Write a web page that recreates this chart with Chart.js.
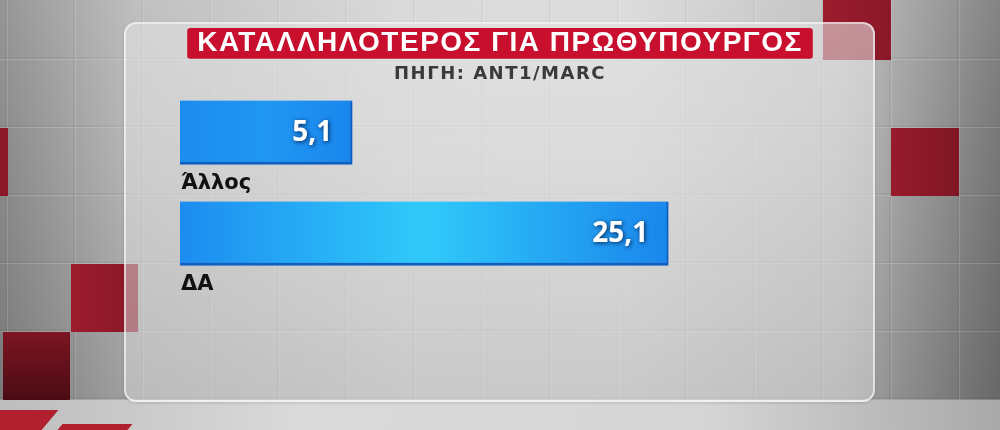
<!DOCTYPE html>
<html>
<head>
<meta charset="utf-8">
<script src="https://cdn.jsdelivr.net/npm/chart.js@4.4.1/dist/chart.umd.min.js"></script>
<style>
html, body { margin: 0; padding: 0; }
body {
    width: 1000px; height: 430px; overflow: hidden; position: relative;
    background:
        linear-gradient(to bottom, rgba(255,255,255,0.10) 0%, rgba(0,0,0,0) 35%, rgba(0,0,0,0.12) 92%),
        linear-gradient(to right, #8a8a8a 0%, #b9b9b9 14%, #d6d6d6 40%, #d9d9d9 62%, #bdbdbd 84%, #767676 100%);
}
.grid {
    position: absolute; left: 0; top: 0; width: 1000px; height: 400px;
    background-image:
        linear-gradient(to bottom, transparent 0 65px, rgba(0,0,0,0.035) 65px 67px, rgba(255,255,255,0.16) 67px 68px),
        linear-gradient(to right, transparent 0 65px, rgba(0,0,0,0.03) 65px 67px, rgba(255,255,255,0.14) 67px 68px);
    background-size: 68px 68px, 68px 68px;
    background-position: 0 60px, 8px 0;
}
.tile { position: absolute; width: 68px; height: 68px; }
.red { background: linear-gradient(to right, #9c1c2d, #8a1828); }
.floor {
    position: absolute; left: 0; top: 400px; width: 1000px; height: 30px;
    background: linear-gradient(to right, #bdbdbd, #dadada 30%, #d6d6d6 70%, #a9a9a9);
}
.streak { position: absolute; background: #b0202f; transform: skewX(-40deg); }
.panel {
    position: absolute; left: 124px; top: 22px; width: 747px; height: 376px;
    border: 2px solid rgba(255,255,255,0.6); border-radius: 12px;
    background: linear-gradient(to bottom, rgba(226,226,226,0.6), rgba(212,212,212,0.5));
    box-shadow: 0 1px 3px rgba(0,0,0,0.15);
}
#chart_pm { position: absolute; left: 0; top: 0; }
</style>
</head>
<body>
<div class="grid"></div>
<div class="tile red" style="left:823px; top:-8px;"></div>
<div class="tile red" style="left:891px; top:128px; background:linear-gradient(to right,#981b2c,#7f1624);"></div>
<div class="tile red" style="left:-60px; top:128px;"></div>
<div class="tile red" style="left:71px; top:264px; width:67px;"></div>
<div class="tile" style="left:3px; top:332px; width:67px; background:linear-gradient(to bottom,#7d1522,#4a0c14);"></div>
<div class="floor"></div>
<div class="streak" style="left:-10px; top:410px; width:60px; height:20px;"></div>
<div class="streak" style="left:60px; top:424px; width:70px; height:6px;"></div>
<div class="panel"></div>
<canvas id="chart_pm" width="1000" height="430"></canvas>
<script>
const categories = ['Άλλος', 'ΔΑ'];
const values = [5.1, 25.1];
const titleText = 'ΚΑΤΑΛΛΗΛΟΤΕΡΟΣ ΓΙΑ ΠΡΩΘΥΠΟΥΡΓΟΣ';
const sourceText = 'ΠΗΓΗ: ANT1/MARC';
// the graphic's bars start from a stub, not from zero
const axisMin = -5.8;
const axisMax = 34.7;

function mix(a, b, t) {
    const r = Math.round(a[0] + (b[0] - a[0]) * t);
    const g = Math.round(a[1] + (b[1] - a[1]) * t);
    const bl = Math.round(a[2] + (b[2] - a[2]) * t);
    return 'rgb(' + r + ',' + g + ',' + bl + ')';
}

const titleBox = {
    id: 'titleBox',
    beforeDraw: function(chart) {
        const tb = chart.titleBlock;
        if (!tb) return;
        const ctx = chart.ctx;
        ctx.save();
        ctx.letterSpacing = '1.5px';
        ctx.font = 'bold 28px "Liberation Sans"';
        const w = ctx.measureText(titleText).width;
        const cx = (tb.left + tb.right) / 2;
        const x = cx - w / 2 - 10, y = tb.top, h = tb.bottom - tb.top, ww = w + 20;
        ctx.fillStyle = '#c8102e';
        ctx.beginPath();
        ctx.roundRect(x, y, ww, h, 3);
        ctx.fill();
        ctx.restore();
        // spacing for the title and source lines, reset before the bars
        ctx.letterSpacing = '1.5px';
    },
    beforeDatasetsDraw: function(chart) {
        chart.ctx.letterSpacing = '0px';
    }
};

const barLabels = {
    id: 'barLabels',
    afterDatasetsDraw: function(chart) {
        const ctx = chart.ctx;
        const meta = chart.getDatasetMeta(0);
        const ys = chart.scales.y;
        const step = ys.getPixelForValue(1) - ys.getPixelForValue(0);
        meta.data.forEach(function(bar, i) {
            ctx.save();
            let label = values[i].toFixed(1).replace('.', ',');
            ctx.font = 'bold 28px "Open Sans"';
            ctx.textAlign = 'right';
            ctx.textBaseline = 'middle';
            ctx.shadowColor = 'rgba(0,20,60,0.85)';
            ctx.shadowBlur = 4;
            ctx.shadowOffsetX = 1;
            ctx.shadowOffsetY = 1;
            ctx.fillStyle = '#ffffff';
            ctx.fillText(label, bar.x - 20, bar.y + 1);
            ctx.restore();

            ctx.save();
            ctx.font = 'bold 21px "DejaVu Sans"';
            ctx.textAlign = 'left';
            ctx.textBaseline = 'middle';
            ctx.fillStyle = '#111111';
            ctx.fillText(categories[i], chart.chartArea.left + 1, bar.y + step / 2 + 1);
            ctx.restore();
        });
    }
};

const chartPm = new Chart(document.getElementById('chart_pm'), {
    type: 'bar',
    data: {
        labels: categories,
        datasets: [{
            data: values,
            base: axisMin,
            barThickness: 64,
            borderWidth: { top: 0, left: 0, right: 2, bottom: 3 },
            borderColor: '#0d5fc2',
            borderSkipped: false,
            backgroundColor: function(context) {
                const chart = context.chart;
                const xs = chart.scales.x;
                if (!xs || !chart.chartArea || context.type !== 'data') return '#1e8ff2';
                const x0 = xs.getPixelForValue(axisMin);
                const x1 = xs.getPixelForValue(values[context.dataIndex]);
                if (!isFinite(x0) || !isFinite(x1) || x1 <= x0) return '#1e8ff2';
                const f = Math.min(1, (x1 - x0) / 490);
                const mid = mix([30, 144, 242], [48, 202, 250], f * f);
                const g = chart.ctx.createLinearGradient(x0, 0, x1, 0);
                g.addColorStop(0, 'rgb(28,140,240)');
                g.addColorStop(0.5, mid);
                g.addColorStop(1, 'rgb(26,134,236)');
                return g;
            }
        }]
    },
    options: {
        responsive: false,
        animation: false,
        indexAxis: 'y',
        layout: {
            padding: { left: 180, right: 180, top: 28, bottom: 146 }
        },
        scales: {
            x: { display: false, min: axisMin, max: axisMax },
            y: { display: false, offset: true }
        },
        plugins: {
            legend: { display: false },
            tooltip: { enabled: false },
            title: {
                display: true,
                text: titleText,
                color: '#ffffff',
                font: { family: 'Liberation Sans', size: 28, weight: 'bold', lineHeight: 1.1 },
                padding: { top: 0, bottom: 0 }
            },
            subtitle: {
                display: true,
                text: sourceText,
                color: '#3a3a3a',
                font: { family: 'DejaVu Sans', size: 18, weight: 'bold', lineHeight: 0.9 },
                padding: { top: 7, bottom: 0 }
            }
        }
    },
    plugins: [titleBox, barLabels]
});
</script>
</body>
</html>
